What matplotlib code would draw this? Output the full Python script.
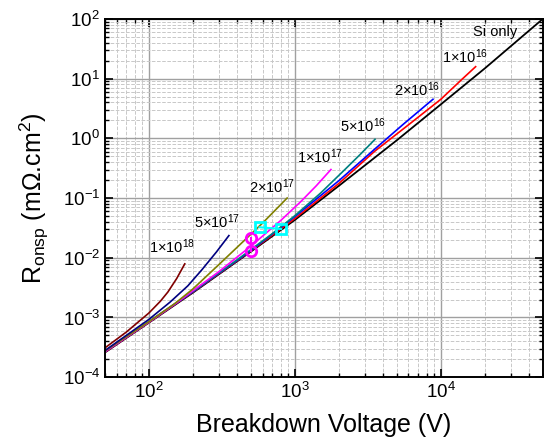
import numpy as np
import matplotlib
matplotlib.use('Agg')
import matplotlib.pyplot as plt
from matplotlib.ticker import LogLocator, NullFormatter

plt.rcParams['font.family'] = ['Liberation Sans', 'DejaVu Sans']
plt.rcParams['mathtext.fontset'] = 'custom'
plt.rcParams['mathtext.rm'] = 'Liberation Sans'
plt.rcParams['mathtext.it'] = 'Liberation Sans:italic'

si_v = [50, 100, 200, 500, 1000, 2000, 5000, 1e4, 2e4, 5e4]
si_r = [2.6e-4, 8.2e-4, 2.6e-3, 0.0127, 0.043, 0.16, 0.93, 3.7, 14.8, 100]

n1e16_v = [50, 100, 200, 500, 1000, 2000, 3500, 6000, 1e4, 14000, 17300]
n1e16_r = [2.64e-4, 8.3e-4, 2.66e-3, 0.013, 0.0455, 0.175, 0.6, 1.68, 4.5, 9.8, 15.8]

n2e16_v = [50, 100, 200, 500, 1000, 2000, 3500, 5500, 8830]
n2e16_r = [2.68e-4, 8.4e-4, 2.69e-3, 0.0132, 0.049, 0.195, 0.65, 1.7, 4.5]

n5e16_v = [50, 100, 200, 400, 700, 1000, 1500, 2200, 2800, 3540]
n5e16_r = [2.72e-4, 8.55e-4, 2.74e-3, 9.14e-3, 0.0253, 0.0507, 0.121, 0.30, 0.536, 0.963]

n1e17_v = [50, 100, 150, 300, 500, 800, 1100, 1400, 1766]
n1e17_r = [2.68e-4, 8.4e-4, 1.67e-3, 5.8e-3, 0.0157, 0.0421, 0.0876, 0.16, 0.30]

n2e17_v = [50, 100, 150, 200, 300, 400, 600, 885]
n2e17_r = [2.75e-4, 8.5e-4, 1.7e-3, 3.0e-3, 7.6e-3, 0.0148, 0.038, 0.10]

n5e17_v = [50, 100, 140, 185, 230, 290, 353]
n5e17_r = [2.8e-4, 9.3e-4, 1.82e-3, 3.4e-3, 6.25e-3, 0.0125, 0.0235]

n1e18_v = [50, 70, 100, 120, 135, 155, 176]
n1e18_r = [3.1e-4, 5.7e-4, 1.19e-3, 1.88e-3, 2.68e-3, 4.5e-3, 7.9e-3]

circ_v = [500, 500]
circ_r = [0.0128, 0.0215]
sq_v = [573, 805]
sq_r = [0.0324, 0.0303]

curves = [
    (n1e16_v, n1e16_r, '#ff0000', r'1$\times$10$^{16}$', (0.822, 0.894)),
    (n2e16_v, n2e16_r, '#0000ff', r'2$\times$10$^{16}$', (0.712, 0.802)),
    (n5e16_v, n5e16_r, '#008080', r'5$\times$10$^{16}$', (0.589, 0.701)),
    (n1e17_v, n1e17_r, '#ff00ff', r'1$\times$10$^{17}$', (0.491, 0.615)),
    (n2e17_v, n2e17_r, '#808000', r'2$\times$10$^{17}$', (0.381, 0.531)),
    (n5e17_v, n5e17_r, '#000080', r'5$\times$10$^{17}$', (0.256, 0.433)),
    (n1e18_v, n1e18_r, '#800000', r'1$\times$10$^{18}$', (0.153, 0.363)),
]

fig = plt.figure(figsize=(5.44, 4.48), dpi=100)
ax = fig.add_axes([0.193, 0.158, 0.805, 0.8])

ax.plot(si_v, si_r, color='black', lw=1.3)
for v, r, c, lab, pos in curves:
    ax.plot(v, r, color=c, lw=1.2)
    ax.text(pos[0], pos[1], lab, transform=ax.transAxes, ha='center', va='center', fontsize=10.5)
ax.text(0.890, 0.964, 'Si only', transform=ax.transAxes, ha='center', va='center', fontsize=10.5)

ax.plot(circ_v, circ_r, 'o-', color='#ff00ff', mfc='none', mec='#ff00ff', ms=7.5, mew=2, lw=1.5)
ax.plot(sq_v, sq_r, 's-', color='#00ffff', mfc='none', mec='#00ffff', ms=7, mew=2, lw=1.5)

ax.set_xscale('log')
ax.set_yscale('log')
ax.set_xlim(50, 5e4)
ax.set_ylim(1e-4, 100)

ax.xaxis.set_major_locator(LogLocator(base=10, numticks=10))
ax.xaxis.set_minor_locator(LogLocator(base=10, subs=np.arange(2, 10), numticks=20))
ax.yaxis.set_major_locator(LogLocator(base=10, numticks=10))
ax.yaxis.set_minor_locator(LogLocator(base=10, subs=np.arange(2, 10), numticks=20))
ax.xaxis.set_minor_formatter(NullFormatter())
ax.yaxis.set_minor_formatter(NullFormatter())

ax.grid(which='major', color='#a0a0a0', lw=1.0, ls='-')
ax.grid(which='minor', color='#c8c8c8', lw=0.7, ls='--')
ax.set_axisbelow(True)

ax.tick_params(which='both', direction='in', top=True, right=True, labelsize=13.5)
ax.tick_params(which='major', length=6, width=1.2)
ax.tick_params(which='minor', length=3, width=1.0)
for s in ax.spines.values():
    s.set_linewidth(1.4)

ax.set_xlabel('Breakdown Voltage (V)', fontsize=18, labelpad=8)
ax.set_ylabel(r'R$_{\mathrm{onsp}}$ (m$\Omega$.cm$^{2}$)', fontsize=18, labelpad=8)

plt.savefig('out.png', dpi=100)
